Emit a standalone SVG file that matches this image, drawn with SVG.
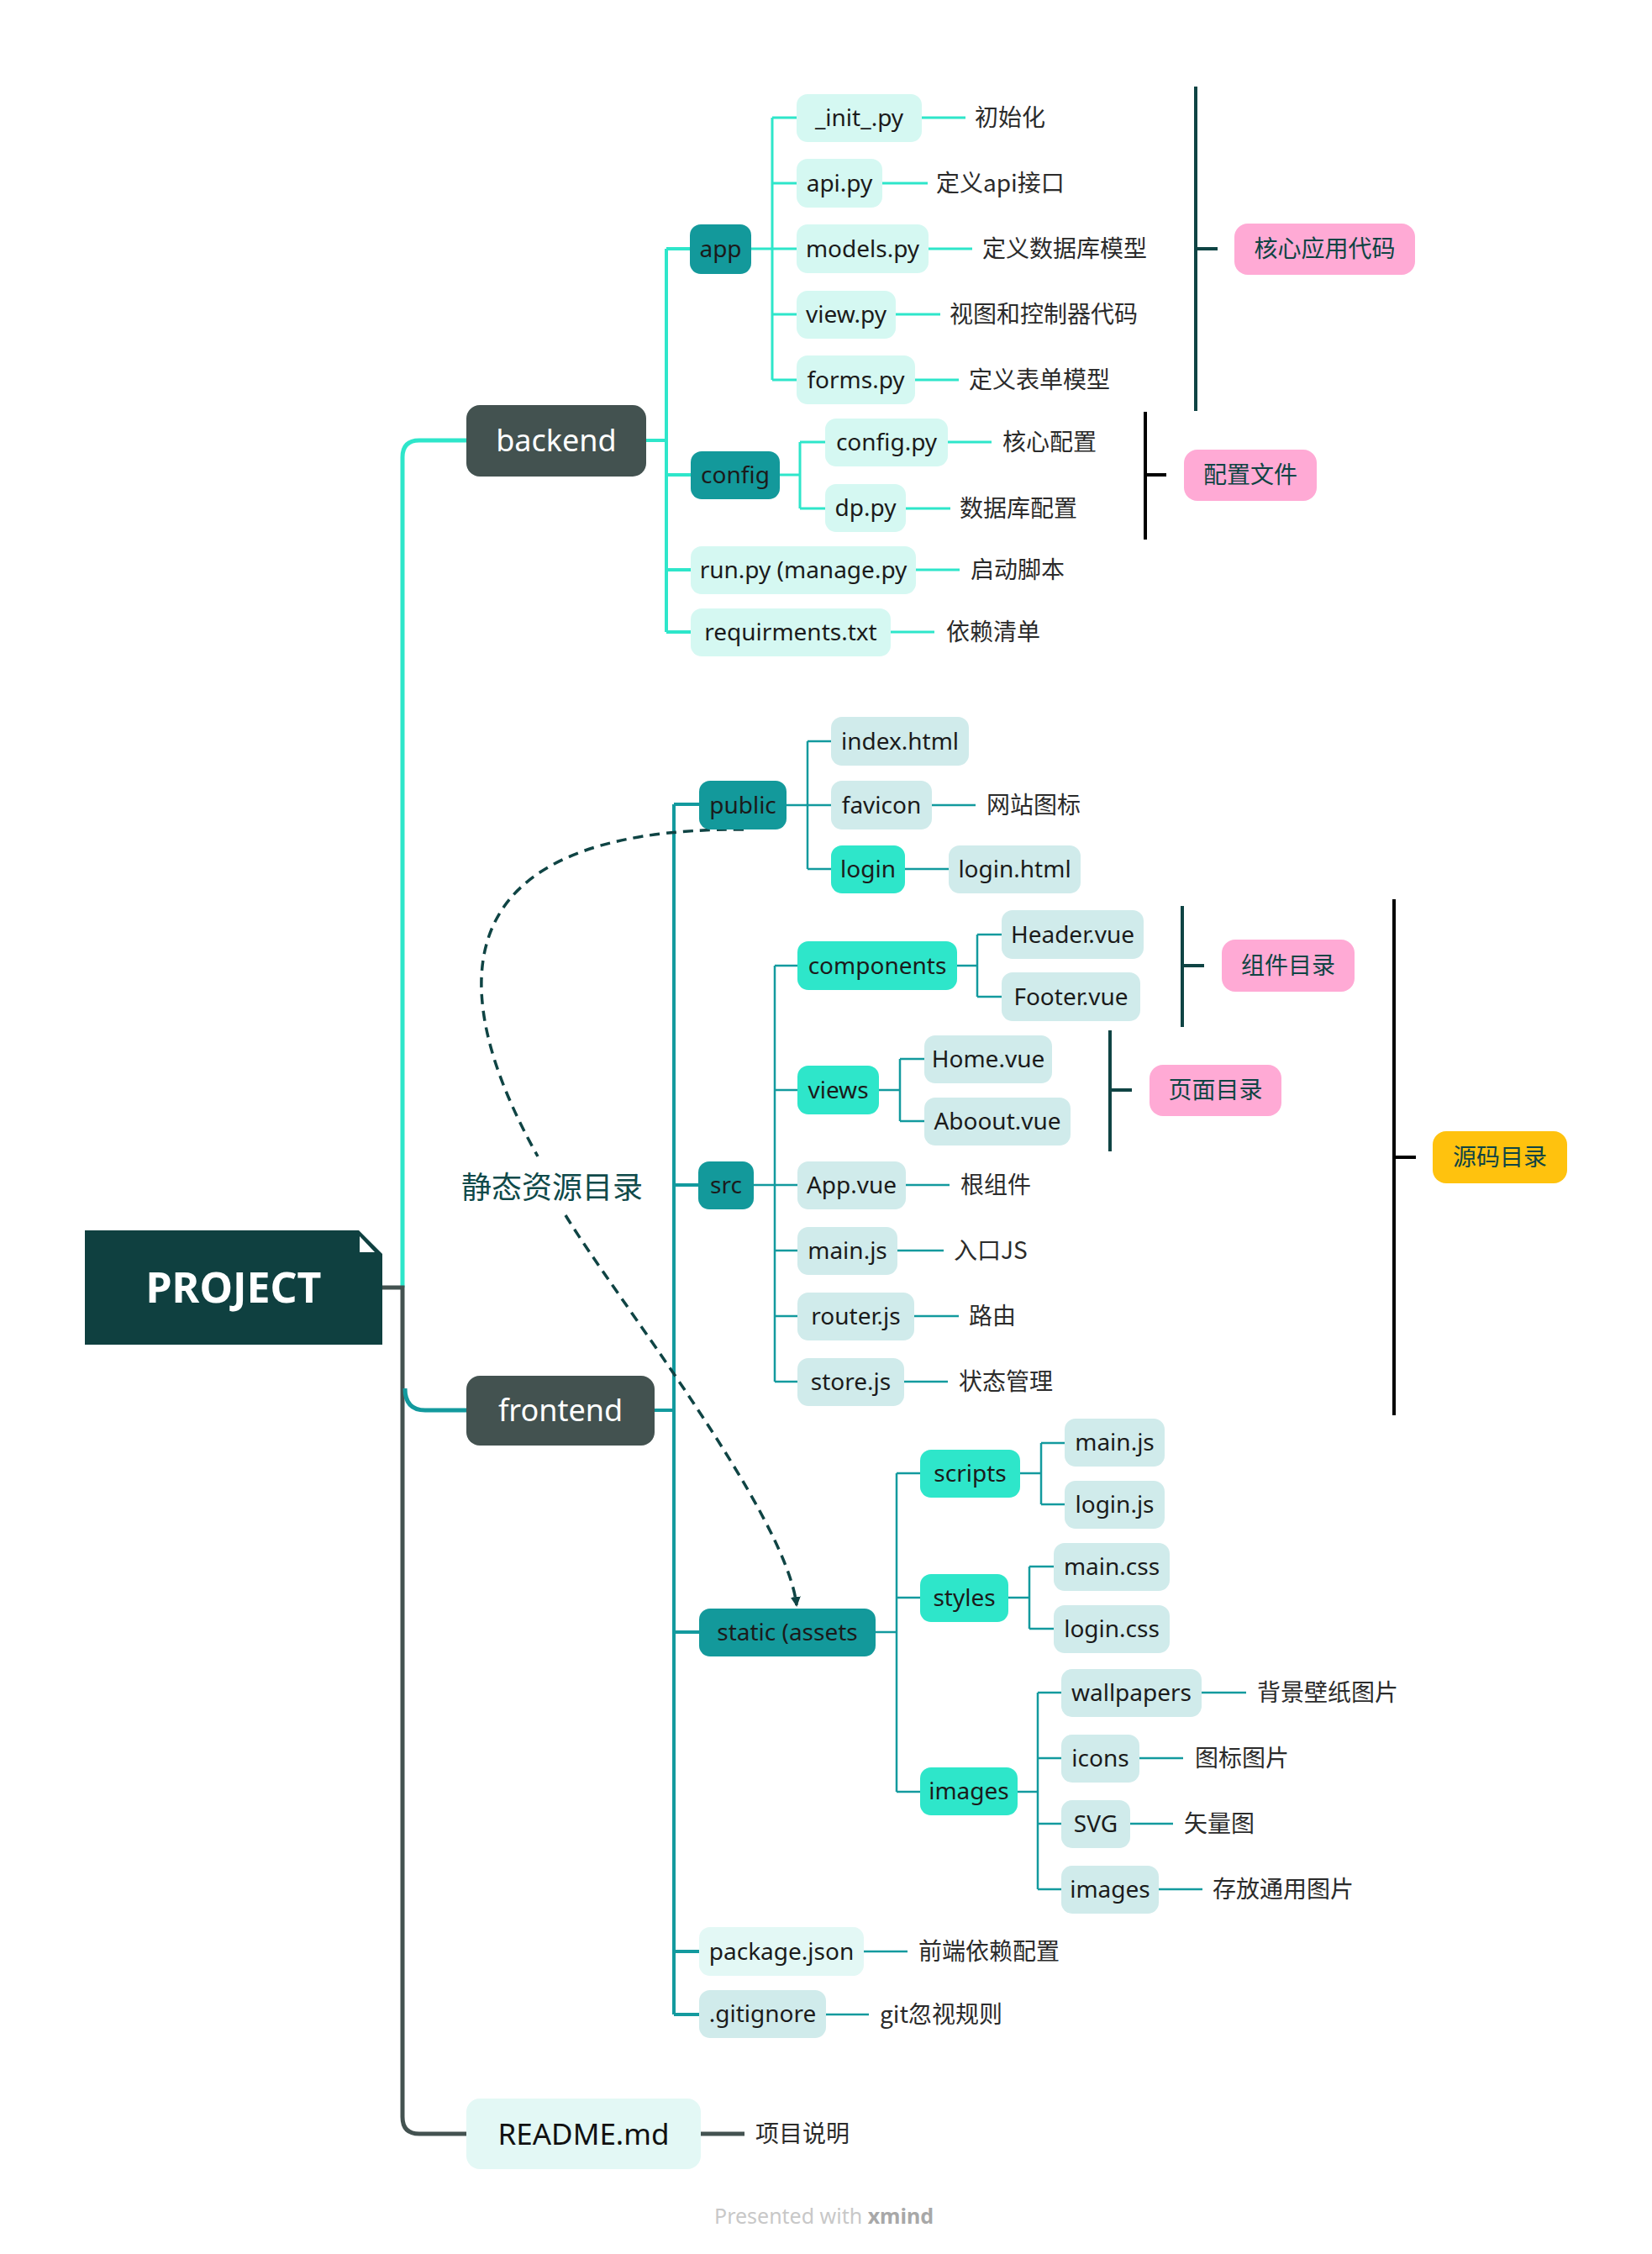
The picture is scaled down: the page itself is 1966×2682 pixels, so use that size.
<svg xmlns="http://www.w3.org/2000/svg" width="1966" height="2682" viewBox="0 0 1966 2682">
<defs>
<style>
text{font-family:"Noto Sans","Noto Sans CJK SC",sans-serif;}
.t{font-size:28px;fill:#1b1b1b;text-anchor:middle;}
.tw{font-size:36px;fill:#ffffff;text-anchor:middle;}
.lb{font-size:28px;fill:#2b2b2b;font-family:"Noto Sans CJK SC","Noto Sans",sans-serif;}
.sm{font-size:28px;fill:#0f4444;text-anchor:middle;font-family:"Noto Sans CJK SC","Noto Sans",sans-serif;}
.dk{fill:#435250;}
.tl{fill:#13999b;}
.cy{fill:#2ee6ca;}
.mint{fill:#d5f8f2;}
.gc{fill:#d0ebeb;}
.pale{fill:#e3f8f5;}
.pink{fill:#ffaad5;}
.amb{fill:#ffc20e;}
.lc{stroke:#2ee6ca;fill:none;}
.lt{stroke:#139a9e;fill:none;}
.lg{stroke:#435250;fill:none;}
.br{stroke:#0f4444;stroke-width:4;fill:none;}
.bb{stroke:#000000;stroke-width:4;fill:none;}
</style>
<marker id="arr" viewBox="0 0 12 12" refX="10" refY="6" markerWidth="12" markerHeight="12" markerUnits="userSpaceOnUse" orient="auto">
<path d="M0,0 L12,6 L0,12 z" fill="#0f4444"/>
</marker>
</defs>
<rect x="0" y="0" width="1966" height="2682" fill="#ffffff"/>

<g id="connectors">
<!-- main trunk -->
<path class="lc" stroke-width="5" d="M479 1532 V544 Q479 524 499 524 H555"/>
<path class="lg" stroke-width="5" d="M455 1532 H479 V2519 Q479 2539 499 2539 H555"/>
<path class="lt" stroke-width="5" d="M482 1652 Q482 1678 506 1678 H555"/>
<!-- backend -->
<path class="lc" stroke-width="4" d="M769 524 H793 M793 296 V752 M793 296 H821 M793 565 H822 M793 678 H822 M793 752 H822"/>
<path class="lc" stroke-width="3" d="M894 296 H919 M919 140 V452 M919 140 H948 M919 218 H948 M919 296 H948 M919 374 H948 M919 452 H948"/>
<path class="lc" stroke-width="3" d="M928 565 H952 M952 526 V605 M952 526 H982 M952 605 H982"/>
<path class="lc" stroke-width="3" d="M1097 140 H1149 M1050 218 H1104 M1105 296 H1157 M1066 374 H1119 M1089 452 H1141 M1128 526 H1180 M1078 605 H1131 M1090 678 H1142 M1060 752 H1112"/>
<!-- frontend -->
<path class="lt" stroke-width="4" d="M779 1678 H802 M802 957 V2397 M802 957 H832 M802 1410 H831 M802 1942 H832 M802 2322 H832 M802 2397 H832"/>
<path class="lt" stroke-width="2.5" d="M936 958 H961 M961 882 V1034 M961 882 H989 M961 958 H989 M961 1034 H989 M1109 958 H1161 M1077 1034 H1129"/>
<path class="lt" stroke-width="2.5" d="M897 1410 H922 M922 1149 V1644 M922 1149 H949 M922 1297 H949 M922 1410 H949 M922 1488 H949 M922 1566 H949 M922 1644 H949"/>
<path class="lt" stroke-width="2.5" d="M1139 1149 H1163 M1163 1112 V1186 M1163 1112 H1192 M1163 1186 H1192 M1046 1297 H1071 M1071 1260 V1334 M1071 1260 H1100 M1071 1334 H1100"/>
<path class="lt" stroke-width="2.5" d="M1078 1410 H1130 M1068 1488 H1123 M1088 1566 H1141 M1076 1644 H1128"/>
<path class="lt" stroke-width="2.5" d="M1042 1942 H1067 M1067 1753 V2132 M1067 1753 H1095 M1067 1901 H1095 M1067 2132 H1095"/>
<path class="lt" stroke-width="2.5" d="M1214 1753 H1239 M1239 1717 V1790 M1239 1717 H1267 M1239 1790 H1267 M1200 1901 H1225 M1225 1864 V1938 M1225 1864 H1254 M1225 1938 H1254"/>
<path class="lt" stroke-width="2.5" d="M1211 2132 H1235 M1235 2014 V2248 M1235 2014 H1263 M1235 2092 H1263 M1235 2170 H1263 M1235 2248 H1263"/>
<path class="lt" stroke-width="2.5" d="M1430 2014 H1483 M1356 2092 H1408 M1345 2170 H1396 M1379 2248 H1431 M1028 2322 H1080 M983 2397 H1034"/>
<path class="lg" stroke-width="5" d="M834 2539 H886"/>
<!-- summary brackets -->
<path class="br" d="M1423 103 V489 M1423 296 H1449"/>
<path class="bb" d="M1363 490 V642 M1363 565 H1388"/>
<path class="br" d="M1407 1078 V1222 M1407 1149 H1433"/>
<path class="br" d="M1321 1226 V1370 M1321 1297 H1347"/>
<path class="bb" d="M1659 1070 V1684 M1659 1377 H1685"/>
<!-- relationship -->
<path d="M885 987 C520 985 530 1180 640 1376" stroke="#0f4444" stroke-width="3.5" stroke-dasharray="12 8" fill="none"/>
<path d="M673 1446 C730 1540 935 1800 948 1910" stroke="#0f4444" stroke-width="3.5" stroke-dasharray="12 8" fill="none" marker-end="url(#arr)"/>
</g>

<g id="project">
<polygon points="101,1464 427,1464 455,1492 455,1600 101,1600" fill="#0f4040"/>
<polygon points="428,1471 428,1490 446,1490" fill="#ffffff"/>
<text x="278" y="1550" style="font-size:50px;font-weight:bold;fill:#ffffff;text-anchor:middle;">PROJECT</text>
</g>

<g id="backend"><rect class="dk" x="555" y="482" width="214" height="85" rx="16"/><text class="tw" x="662" y="537">backend</text></g>
<g id="app"><rect class="tl" x="821" y="267" width="73" height="59" rx="13"/><text class="t" x="857.5" y="306">app</text></g>
<g id="init"><rect class="mint" x="948" y="112" width="149" height="57" rx="13"/><text class="t" x="1022.5" y="150">_init_.py</text></g>
<g id="api"><rect class="mint" x="948" y="189" width="102" height="58" rx="13"/><text class="t" x="999" y="228">api.py</text></g>
<g id="models"><rect class="mint" x="948" y="267" width="157" height="58" rx="13"/><text class="t" x="1026.5" y="306">models.py</text></g>
<g id="view"><rect class="mint" x="948" y="346" width="118" height="57" rx="13"/><text class="t" x="1007" y="384">view.py</text></g>
<g id="forms"><rect class="mint" x="948" y="423" width="141" height="58" rx="13"/><text class="t" x="1018.5" y="462">forms.py</text></g>
<g id="config"><rect class="tl" x="822" y="537" width="106" height="57" rx="13"/><text class="t" x="875" y="575">config</text></g>
<g id="configpy"><rect class="mint" x="982" y="498" width="146" height="57" rx="13"/><text class="t" x="1055" y="536">config.py</text></g>
<g id="dppy"><rect class="mint" x="982" y="576" width="96" height="57" rx="13"/><text class="t" x="1030" y="614">dp.py</text></g>
<g id="runpy"><rect class="mint" x="822" y="650" width="268" height="57" rx="13"/><text class="t" x="956" y="688">run.py (manage.py</text></g>
<g id="req"><rect class="mint" x="822" y="724" width="238" height="57" rx="13"/><text class="t" x="941" y="762">requirments.txt</text></g>

<g id="labels-backend">
<text class="lb" x="1160" y="150">初始化</text>
<text class="lb" x="1114" y="228">定义api接口</text>
<text class="lb" x="1169" y="306">定义数据库模型</text>
<text class="lb" x="1130" y="384">视图和控制器代码</text>
<text class="lb" x="1153" y="462">定义表单模型</text>
<text class="lb" x="1193" y="536">核心配置</text>
<text class="lb" x="1142" y="615">数据库配置</text>
<text class="lb" x="1155" y="688">启动脚本</text>
<text class="lb" x="1126" y="762">依赖清单</text>
</g>

<g id="sum-core"><rect class="pink" x="1469" y="266" width="215" height="61" rx="16"/><text class="sm" x="1576.5" y="306">核心应用代码</text></g>
<g id="sum-config"><rect class="pink" x="1409" y="535" width="158" height="61" rx="16"/><text class="sm" x="1488" y="575">配置文件</text></g>

<g id="frontend"><rect class="dk" x="555" y="1637" width="224" height="83" rx="16"/><text class="tw" x="667" y="1691">frontend</text></g>
<g id="public"><rect class="tl" x="832" y="929" width="104" height="58" rx="13"/><text class="t" x="884" y="968">public</text></g>
<g id="index"><rect class="gc" x="989" y="853" width="164" height="58" rx="13"/><text class="t" x="1071" y="892">index.html</text></g>
<g id="favicon"><rect class="gc" x="989" y="929" width="120" height="58" rx="13"/><text class="t" x="1049" y="968">favicon</text></g>
<g id="login"><rect class="cy" x="989" y="1006" width="88" height="57" rx="13"/><text class="t" x="1033" y="1044">login</text></g>
<g id="loginhtml"><rect class="gc" x="1129" y="1006" width="157" height="57" rx="13"/><text class="t" x="1207.5" y="1044">login.html</text></g>
<g id="src"><rect class="tl" x="831" y="1382" width="66" height="57" rx="13"/><text class="t" x="864" y="1420">src</text></g>
<g id="components"><rect class="cy" x="949" y="1120" width="190" height="58" rx="13"/><text class="t" x="1044" y="1159">components</text></g>
<g id="header"><rect class="gc" x="1192" y="1083" width="169" height="58" rx="13"/><text class="t" x="1276.5" y="1122">Header.vue</text></g>
<g id="footer"><rect class="gc" x="1192" y="1157" width="165" height="58" rx="13"/><text class="t" x="1274.5" y="1196">Footer.vue</text></g>
<g id="views"><rect class="cy" x="949" y="1268" width="97" height="58" rx="13"/><text class="t" x="997.5" y="1307">views</text></g>
<g id="home"><rect class="gc" x="1100" y="1232" width="152" height="57" rx="13"/><text class="t" x="1176" y="1270">Home.vue</text></g>
<g id="about"><rect class="gc" x="1100" y="1306" width="174" height="57" rx="13"/><text class="t" x="1187" y="1344">Aboout.vue</text></g>
<g id="appvue"><rect class="gc" x="949" y="1382" width="129" height="57" rx="13"/><text class="t" x="1013.5" y="1420">App.vue</text></g>
<g id="mainjs"><rect class="gc" x="949" y="1460" width="119" height="57" rx="13"/><text class="t" x="1008.5" y="1498">main.js</text></g>
<g id="routerjs"><rect class="gc" x="949" y="1538" width="139" height="57" rx="13"/><text class="t" x="1018.5" y="1576">router.js</text></g>
<g id="storejs"><rect class="gc" x="949" y="1616" width="127" height="57" rx="13"/><text class="t" x="1012.5" y="1654">store.js</text></g>
<g id="static"><rect class="tl" x="832" y="1914" width="210" height="57" rx="13"/><text class="t" x="937" y="1952">static (assets</text></g>
<g id="scripts"><rect class="cy" x="1095" y="1725" width="119" height="57" rx="13"/><text class="t" x="1154.5" y="1763">scripts</text></g>
<g id="mainjs2"><rect class="gc" x="1267" y="1688" width="119" height="57" rx="13"/><text class="t" x="1326.5" y="1726">main.js</text></g>
<g id="loginjs"><rect class="gc" x="1267" y="1762" width="119" height="57" rx="13"/><text class="t" x="1326.5" y="1800">login.js</text></g>
<g id="styles"><rect class="cy" x="1095" y="1873" width="105" height="57" rx="13"/><text class="t" x="1147.5" y="1911">styles</text></g>
<g id="maincss"><rect class="gc" x="1254" y="1836" width="138" height="57" rx="13"/><text class="t" x="1323" y="1874">main.css</text></g>
<g id="logincss"><rect class="gc" x="1254" y="1910" width="138" height="57" rx="13"/><text class="t" x="1323" y="1948">login.css</text></g>
<g id="images"><rect class="cy" x="1095" y="2103" width="116" height="57" rx="13"/><text class="t" x="1153" y="2141">images</text></g>
<g id="wallpapers"><rect class="gc" x="1263" y="1986" width="167" height="57" rx="13"/><text class="t" x="1346.5" y="2024">wallpapers</text></g>
<g id="icons"><rect class="gc" x="1263" y="2064" width="93" height="57" rx="13"/><text class="t" x="1309.5" y="2102">icons</text></g>
<g id="svg"><rect class="gc" x="1263" y="2142" width="82" height="57" rx="13"/><text class="t" x="1304" y="2180">SVG</text></g>
<g id="images2"><rect class="gc" x="1263" y="2220" width="116" height="57" rx="13"/><text class="t" x="1321" y="2258">images</text></g>
<g id="package"><rect class="pale" x="832" y="2293" width="196" height="58" rx="13"/><text class="t" x="930" y="2332">package.json</text></g>
<g id="gitignore"><rect class="gc" x="832" y="2368" width="151" height="57" rx="13"/><text class="t" x="907.5" y="2406">.gitignore</text></g>

<g id="labels-frontend">
<text class="lb" x="1174" y="968">网站图标</text>
<text class="lb" x="1143" y="1420">根组件</text>
<text class="lb" x="1135" y="1498">入口JS</text>
<text class="lb" x="1153" y="1576">路由</text>
<text class="lb" x="1141" y="1654">状态管理</text>
<text class="lb" x="1496" y="2024">背景壁纸图片</text>
<text class="lb" x="1422" y="2102">图标图片</text>
<text class="lb" x="1409" y="2180">矢量图</text>
<text class="lb" x="1443" y="2258">存放通用图片</text>
<text class="lb" x="1093" y="2332">前端依赖配置</text>
<text class="lb" x="1047" y="2407">git忽视规则</text>
</g>

<g id="sum-components"><rect class="pink" x="1454" y="1118" width="158" height="62" rx="16"/><text class="sm" x="1533" y="1159">组件目录</text></g>
<g id="sum-views"><rect class="pink" x="1368" y="1267" width="157" height="61" rx="16"/><text class="sm" x="1446.5" y="1307">页面目录</text></g>
<g id="sum-src"><rect class="amb" x="1705" y="1346" width="160" height="62" rx="16"/><text class="sm" x="1785" y="1387">源码目录</text></g>

<g id="rel-label"><text x="657" y="1426" style="font-size:36px;fill:#0f4a4a;text-anchor:middle;font-family:'Noto Sans CJK SC','Noto Sans',sans-serif;">静态资源目录</text></g>

<g id="readme"><rect class="pale" x="555" y="2497" width="279" height="84" rx="16"/><text x="694.5" y="2552" style="font-size:35px;fill:#111111;text-anchor:middle;">README.md</text></g>
<g id="label-readme"><text class="lb" x="899" y="2549">项目说明</text></g>

<g id="footer-credit"><text x="850" y="2646" style="font-size:25px;fill:#c8c8c8;">Presented with <tspan style="font-weight:bold;fill:#a8a8a8;">xmind</tspan></text></g>
</svg>
